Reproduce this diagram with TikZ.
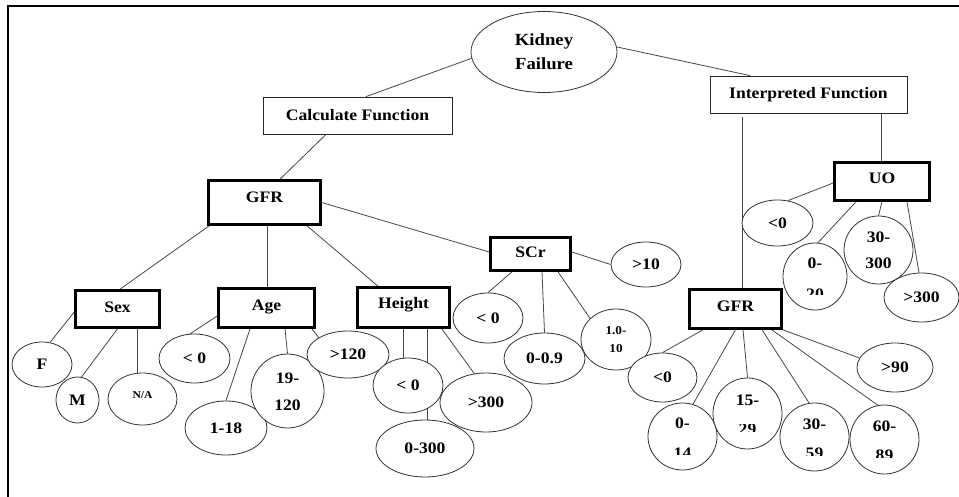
\documentclass[tikz,border=0pt]{standalone}
\usepackage{fontspec}
\setmainfont{Liberation Serif}[FakeStretch=1.1]
\usepackage{trimclip}
\usetikzlibrary{shapes.geometric,backgrounds}

% second line of a range label, shown only up to its upper part
\newcommand\cutline[2]{\clipbox{0pt #1 0pt 0pt}{#2}}

\begin{document}
\begin{tikzpicture}[x=1pt,y=-1pt,
  every node/.style={font=\bfseries\fontsize{16}{26}\selectfont, inner sep=0pt, align=center},
  link/.style={draw=black!72, line width=0.8pt},
  plainbox/.style={rectangle, draw=black!85, line width=0.8pt, fill=white},
  keybox/.style={rectangle, draw=black, line width=2.6pt, fill=white},
  oval/.style={ellipse, draw=black!80, line width=0.8pt, fill=white},
  smalltext/.style={font=\bfseries\fontsize{12}{18}\selectfont},
]
\useasboundingbox (0,0) rectangle (959,497);
\draw[line width=1.2pt] (8,497) -- (8,6) -- (959,6);

% root and the two function groups
\node[oval, minimum width=146, minimum height=81, font=\bfseries\fontsize{17}{24}\selectfont] (kf) at (544,52) {Kidney\\Failure};
\node[plainbox, minimum width=189, minimum height=37] (calc) at (357.5,115.5) {Calculate Function};
\node[plainbox, minimum width=197, minimum height=37] (interp) at (808.5,94.5) {Interpreted Function};

% parameter boxes
\node[keybox, minimum width=112, minimum height=44, label={[yshift=5]center:GFR}] (gfrL) at (264.5,202.5) {};
\node[keybox, minimum width=80, minimum height=33, label={[yshift=1.5]center:SCr}] (scr) at (530.5,254) {};
\node[keybox, minimum width=84, minimum height=37, label={[yshift=2]center:Sex}] (sex) at (117.5,309) {};
\node[keybox, minimum width=96, minimum height=39, label={[yshift=1]center:Age}] (age) at (266.5,308) {};
\node[keybox, minimum width=92, minimum height=40, label={[yshift=3]center:Height}] (height) at (403.5,307.5) {};
\node[keybox, minimum width=92, minimum height=39, label={[yshift=3]center:GFR}] (gfrR) at (735.5,309) {};
\node[keybox, minimum width=95, minimum height=38, label={[yshift=3.5]center:UO}] (uo) at (882,181.5) {};

% Sex values
\node[oval, minimum width=60, minimum height=45] (f) at (42,364.5) {F};
\node[oval, minimum width=43, minimum height=46] (m) at (77.5,400) {M};
\node[oval, minimum width=69, minimum height=52, label={[yshift=3.5, font=\bfseries\fontsize{10.5}{12}\selectfont]center:N/A}] (na) at (142.5,399) {};

% Age values
\node[oval, minimum width=71, minimum height=49] (ageneg) at (194.5,358.5) {< 0};
\node[oval, minimum width=82, minimum height=54] (a118) at (226,428) {1-18};
\node[oval, minimum width=73, minimum height=74] (a19) at (287.5,391) {19-\\\cutline{0.08em}{120}};
\node[oval, minimum width=82, minimum height=47] (a120) at (348,354.5) {>120};

% Height values
\node[oval, minimum width=70, minimum height=55] (hneg) at (408,385.5) {< 0};
\node[oval, minimum width=98, minimum height=57] (h0300) at (425,448.5) {0-300};
\node[oval, minimum width=92, minimum height=59] (h300) at (486,402.5) {>300};

% SCr values
\node[oval, minimum width=70, minimum height=50] (sneg) at (488,318) {< 0};
\node[oval, minimum width=81, minimum height=51] (s009) at (544.5,358.5) {0-0.9};
\node[oval, minimum width=70, minimum height=61, smalltext] (s110) at (616,339.5) {1.0-\\10};
\node[oval, minimum width=70, minimum height=45] (s10) at (646,264.5) {>10};

% GFR classes
\node[oval, minimum width=69, minimum height=49] (gneg) at (662.5,377.5) {<0};
\node[oval, minimum width=69, minimum height=67] (g014) at (682.5,436.5) {0-\\\cutline{0.2em}{14}};
\node[oval, minimum width=69, minimum height=71] (g1529) at (747.5,413.5) {15-\\\cutline{0.2em}{29}};
\node[oval, minimum width=69, minimum height=68] (g3059) at (814.5,437) {30-\\\cutline{0.2em}{59}};
\node[oval, minimum width=69, minimum height=69] (g6089) at (884.5,439.5) {60-\\\cutline{0.17em}{89}};
\node[oval, minimum width=76, minimum height=49] (g90) at (895,367.5) {>90};

% UO values
\node[oval, minimum width=71, minimum height=46] (uneg) at (777.5,223) {<0};
\node[oval, minimum width=64, minimum height=67] (u020) at (815,276.5) {0-\\\cutline{0.3em}{20}};
\node[oval, minimum width=69, minimum height=68] (u30300) at (878.5,250) {30-\\300};
\node[oval, minimum width=75, minimum height=49] (u300) at (921.5,297.5) {>300};

\begin{scope}[on background layer]
  \draw[link] (kf.185) -- ([xshift=8.5]calc.north);
  \draw[link] (kf.4) -- ([xshift=-58.5]interp.north);
  \draw[link] ([xshift=-31.5]calc.south) -- ([xshift=15.5]gfrL.north);
  \draw[link] ([xshift=-66.5,yshift=-4]interp.south) -- ([xshift=6.5]gfrR.north);
  \draw[link] ([xshift=72.5]interp.south) -- ([xshift=-1]uo.north);
  % GFR inputs
  \draw[link] ([xshift=2]gfrL.south west) -- ([xshift=2.5]sex.north);
  \draw[link] ([xshift=2.5]gfrL.south) -- ([xshift=0.5]age.north);
  \draw[link] ([xshift=42.5]gfrL.south) -- ([xshift=-25.5]height.north);
  \draw[link] (gfrL.east) -- ([yshift=2]scr.west);
  % Sex
  \draw[link] ([yshift=-3]sex.west) -- (f.70);
  \draw[link] (sex.south) -- (m.80);
  \draw[link] ([xshift=19.5]sex.south) -- ([xshift=-5.5]na.north);
  % Age
  \draw[link] ([yshift=-8]age.west) -- (ageneg.100);
  \draw[link] ([xshift=-16.5]age.south) -- (a118.north);
  \draw[link] ([xshift=18.5]age.south) -- (a19.north);
  \draw[link] ([xshift=-4]age.south east) -- (a120.150);
  % Height
  \draw[link] ([xshift=-0.5]height.south) -- ([xshift=-5]hneg.north);
  \draw[link] ([xshift=23.5]height.south) -- ([xshift=2]h0300.north);
  \draw[link] ([xshift=-9]height.south east) -- (h300.112);
  % SCr
  \draw[link] ([yshift=2]scr.east) -- (s10.west);
  \draw[link] ([xshift=-18.5]scr.south) -- (sneg.north);
  \draw[link] ([xshift=11.5]scr.south) -- (s009.north);
  \draw[link] ([xshift=27.5]scr.south) -- (s110.141);
  % GFR classes
  \draw[link] ([xshift=-32.5]gfrR.south) -- (gneg.north);
  \draw[link] (gfrR.south) -- (g014.72);
  \draw[link] ([xshift=7.5]gfrR.south) -- (g1529.north);
  \draw[link] ([xshift=26.5]gfrR.south) -- (g3059.99);
  \draw[link] ([xshift=-11]gfrR.south east) -- (g6089.101);
  \draw[link] (gfrR.south east) -- (g90.165);
  % UO
  \draw[link] ([yshift=-1.5]uo.west) -- (uneg.65);
  \draw[link] ([xshift=-26]uo.south) -- (u020.85);
  \draw[link] (uo.south) -- (u30300.north);
  \draw[link] ([xshift=25]uo.south) -- ([xshift=-2.5]u300.north);
\end{scope}
\end{tikzpicture}
\end{document}
